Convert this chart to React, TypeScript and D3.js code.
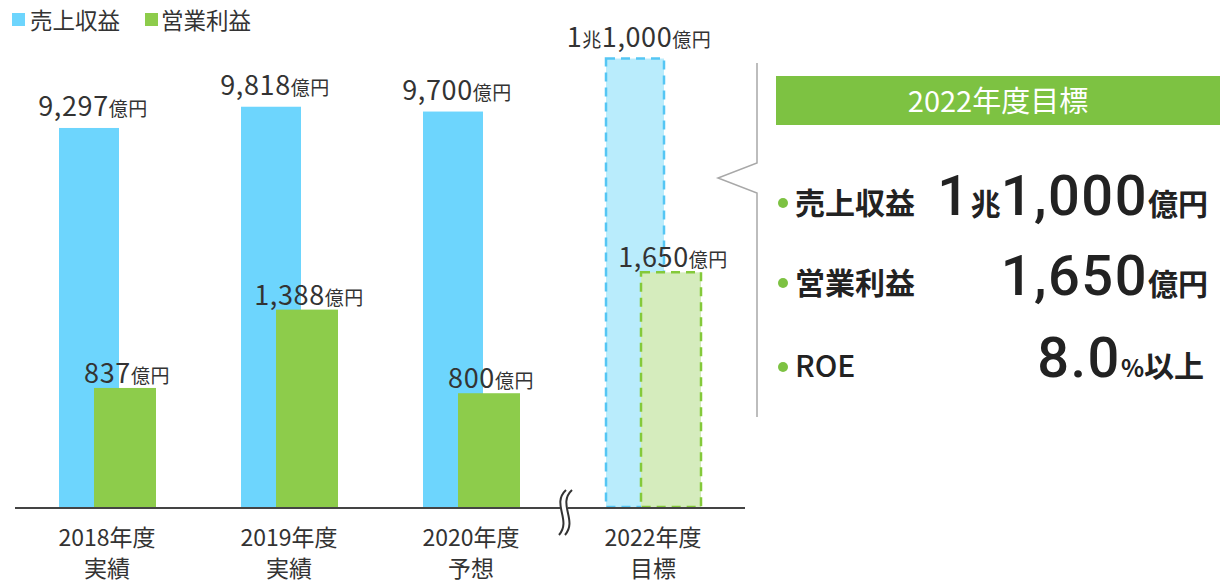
import React from "react";
import * as d3 from "d3";

const categories = ["2018", "2019", "2020", "2022"];
const categoryLine1 = ["2018年度", "2019年度", "2020年度", "2022年度"];
const categoryLine2 = ["実績", "実績", "予想", "目標"];
const revenue = [9297, 9818, 9700, 11000];
const opProfit = [837, 1388, 800, 1650];
const isTarget = [false, false, false, true];
const legendLabels = ["売上収益", "営業利益"];

const W = 1222;
const H = 585;
const FONT = "'Noto Sans CJK JP', 'Noto Sans', sans-serif";
const NUMFONT = "Roboto, 'Liberation Sans', sans-serif";
const BLUE = "#6dd5fd";
const GREEN = "#8dcc4b";
const BLUE_LIGHT = "#b9ecfc";
const GREEN_LIGHT = "#d5ecbd";
const TEXT = "#333";

function valueParts(v: number): { t: string; small: boolean }[] {
  if (v >= 10000) {
    const cho = Math.floor(v / 10000);
    const rest = v % 10000;
    return [
      { t: String(cho), small: false },
      { t: "兆", small: true },
      { t: d3.format(",")(rest), small: false },
      { t: "億円", small: true },
    ];
  }
  return [
    { t: d3.format(",")(v), small: false },
    { t: "億円", small: true },
  ];
}

export default function App() {
  const baseY = 507;
  const x = d3
    .scaleBand<string>()
    .domain(categories)
    .range([59, 701])
    .paddingInner(86 / 182)
    .paddingOuter(0);
  const yRev = d3.scaleLinear().domain([0, 12436]).range([baseY, 0]);
  const yOp = d3.scaleLinear().domain([0, 3565]).range([baseY, 0]);
  const blueW = 60;
  const greenW = 62;
  const greenOff = 35;

  const breakX = 560;
  const wave = (dx: number) => {
    const p = d3.path();
    const x0 = breakX + dx;
    p.moveTo(x0 + 6, 490);
    p.bezierCurveTo(x0 - 9, 504, x0 + 12, 520, x0 - 1, 535);
    return p.toString();
  };

  const chartLabel = (parts: { t: string; small: boolean }[]) =>
    parts.map((p, k) => (
      <tspan
        key={k}
        fontSize={p.small ? 19 : 27}
        letterSpacing={p.small ? 0.5 : 0.6}
      >
        {p.t}
      </tspan>
    ));

  const bigLabel = (parts: { t: string; small: boolean }[]) =>
    parts.map((p, k) =>
      p.small ? (
        <tspan key={k} fontSize={30} fontWeight={700} fontFamily={FONT}>
          {p.t}
        </tspan>
      ) : (
        <tspan
          key={k}
          fontSize={56}
          fontWeight={500}
          fontFamily={NUMFONT}
          letterSpacing={1.5}
        >
          {p.t}
        </tspan>
      )
    );

  return (
    <svg
      width={W}
      height={H}
      style={{ position: "absolute", left: 0, top: 0, background: "#fff" }}
      fontFamily={FONT}
    >
      {/* legend */}
      <rect x={12} y={13} width={13} height={13} fill={BLUE} />
      <text x={30} y={29} fontSize={22.5} fill={TEXT}>
        {legendLabels[0]}
      </text>
      <rect x={145} y={13} width={13} height={13} fill={GREEN} />
      <text x={161} y={29} fontSize={22.5} fill={TEXT}>
        {legendLabels[1]}
      </text>

      {/* bars */}
      {categories.map((c, i) => {
        const bx = x(c)!;
        const t = isTarget[i];
        const rTop = yRev(revenue[i]);
        const oTop = yOp(opProfit[i]);
        return (
          <g key={c}>
            <rect
              x={bx + (t ? 1 : 0)}
              y={rTop}
              width={blueW - (t ? 2 : 0)}
              height={baseY - rTop}
              fill={t ? BLUE_LIGHT : BLUE}
              stroke={t ? "#55c6f4" : "none"}
              strokeWidth={t ? 2.5 : 0}
              strokeDasharray={t ? "9 6" : undefined}
            />
            <rect
              x={bx + greenOff + (t ? 1 : 0)}
              y={oTop}
              width={greenW - (t ? 2 : 0)}
              height={baseY - oTop}
              fill={t ? GREEN_LIGHT : GREEN}
              stroke={t ? "#84c93a" : "none"}
              strokeWidth={t ? 2.5 : 0}
              strokeDasharray={t ? "9 6" : undefined}
            />
          </g>
        );
      })}

      {/* value labels */}
      {categories.map((c, i) => {
        const bx = x(c)!;
        const rTop = yRev(revenue[i]);
        const oTop = yOp(opProfit[i]);
        return (
          <g key={"l" + c}>
            <text
              x={bx + blueW / 2 + 4}
              y={rTop - 12}
              textAnchor="middle"
              fill={TEXT}
            >
              {chartLabel(valueParts(revenue[i]))}
            </text>
            <text
              x={bx + greenOff + greenW / 2 + 2}
              y={oTop - 5}
              textAnchor="middle"
              fill={TEXT}
            >
              {chartLabel(valueParts(opProfit[i]))}
            </text>
          </g>
        );
      })}

      {/* axis */}
      <line x1={15} x2={745} y1={508} y2={508} stroke="#444" strokeWidth={2} />
      <rect x={breakX} y={502} width={8} height={12} fill="#fff" />
      <path d={wave(0)} fill="none" stroke="#333" strokeWidth={2} />
      <path d={wave(6)} fill="none" stroke="#333" strokeWidth={2} />

      {/* category labels */}
      {categories.map((c, i) => {
        const cx = x(c)! + 48;
        return (
          <g key={"c" + c}>
            <text x={cx} y={546} textAnchor="middle" fontSize={23} fill={TEXT}>
              {categoryLine1[i]}
            </text>
            <text x={cx} y={577} textAnchor="middle" fontSize={23} fill={TEXT}>
              {categoryLine2[i]}
            </text>
          </g>
        );
      })}

      {/* bracket */}
      <path
        d="M757,63 L757,163 L718,178 L757,193 L757,417"
        fill="none"
        stroke="#a8a8a8"
        strokeWidth={1.5}
      />

      {/* target panel */}
      <rect x={776} y={76} width={444} height={49} fill="#7dc242" />
      <text x={998} y={112} textAnchor="middle" fontSize={29} fill="#fff">
        2022年度目標
      </text>

      {[203, 283, 367].map((cy, k) => (
        <circle key={k} cx={783} cy={cy} r={5} fill="#7dc242" />
      ))}
      <text x={795} y={214} fontSize={30} fontWeight={700} fill="#222">
        売上収益
      </text>
      <text x={795} y={294} fontSize={30} fontWeight={700} fill="#222">
        営業利益
      </text>
      <text x={795} y={377} fontSize={30} fontWeight={500} fill="#222">
        ROE
      </text>

      <text x={1208} y={215} textAnchor="end" fill="#222">
        {bigLabel(valueParts(revenue[3]))}
      </text>
      <text x={1208} y={295} textAnchor="end" fill="#222">
        {bigLabel(valueParts(opProfit[3]))}
      </text>
      <text x={1204} y={377} textAnchor="end" fill="#222">
        <tspan fontSize={56} fontWeight={500} fontFamily={NUMFONT} letterSpacing={1.5}>
          8.0
        </tspan>
        <tspan fontSize={24} fontWeight={700}>%</tspan>
        <tspan fontSize={30} fontWeight={700}>以上</tspan>
      </text>
    </svg>
  );
}
